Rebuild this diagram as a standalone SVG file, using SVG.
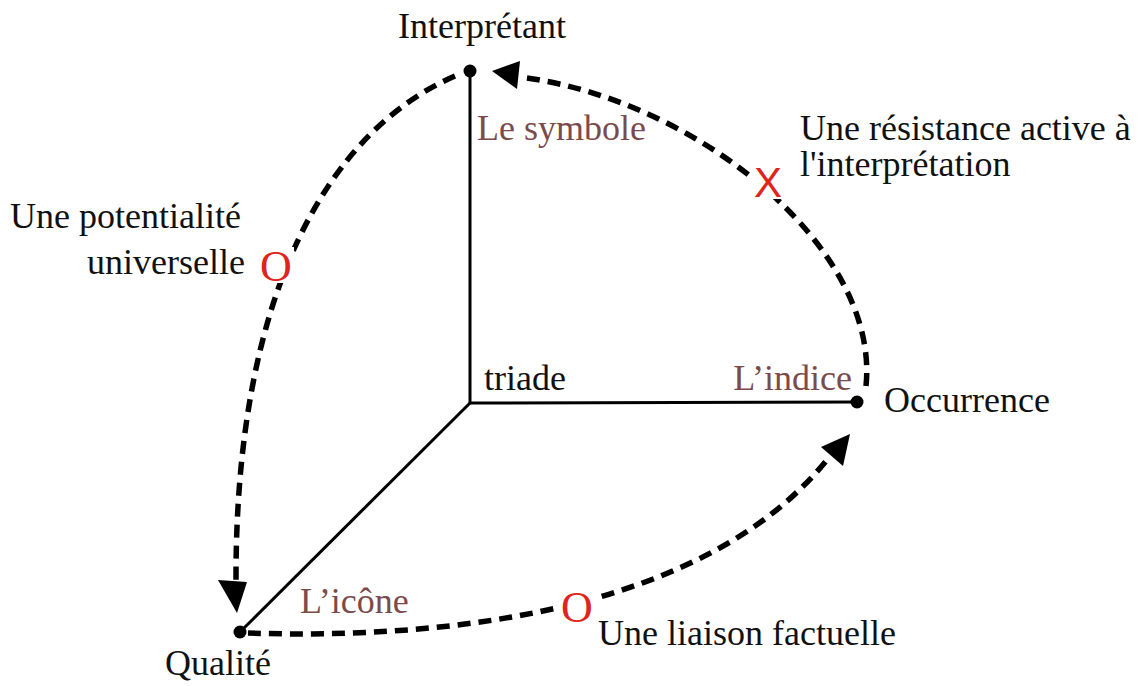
<svg xmlns="http://www.w3.org/2000/svg" width="1138" height="686" viewBox="0 0 1138 686">
<style>
.t{font-family:"Liberation Serif","Times New Roman",serif;font-size:36px;fill:#111}
.b{font-family:"Liberation Serif","Times New Roman",serif;font-size:36px;fill:#7b4b4b}
.m{font-family:"Liberation Serif","Times New Roman",serif;font-size:44px;fill:#e0231b;text-anchor:middle}
.axis{stroke:#000;stroke-width:3;fill:none}
.dash{stroke:#000;stroke-width:5.5;stroke-dasharray:13 8;fill:none}
.dot{fill:#000}
.head{fill:#000}
</style>
<rect width="1138" height="686" fill="#fff"/>
<g id="connectors">
<line class="axis" x1="470" y1="71" x2="470" y2="403"/>
<line class="axis" x1="470" y1="403" x2="857" y2="402"/>
<line class="axis" x1="470" y1="403" x2="240" y2="632"/>
<path class="dash" d="M455 76 C330 130 235 290 236 582"/>
<polygon class="head" points="218,580 247,582 237,613"/>
<path class="dash" d="M866 386 C880 250 700 100 520 77"/>
<polygon class="head" points="520,61 517,89 492,71"/>
<path class="dash" d="M248 633 C450 640 710 610 830 456"/>
<polygon class="head" points="821,447 843,466 850,434"/>
</g>
<g id="node-interpretant">
<circle class="dot" cx="470" cy="71" r="6.5"/>
<text class="t" x="398" y="38">Interprétant</text>
</g>
<g id="node-occurrence">
<circle class="dot" cx="857" cy="402" r="6.5"/>
<text class="t" x="884" y="412">Occurrence</text>
</g>
<g id="node-qualite">
<circle class="dot" cx="240" cy="632" r="6.5"/>
<text class="t" x="165" y="675">Qualité</text>
</g>
<g id="node-triade">
<text class="t" x="484" y="390">triade</text>
</g>
<g id="label-symbole"><text class="b" x="477" y="140">Le symbole</text></g>
<g id="label-indice"><text class="b" x="852" y="390" text-anchor="end">L’indice</text></g>
<g id="label-icone"><text class="b" x="300" y="613">L’icône</text></g>
<g id="mark-resistance">
<rect x="752" y="165" width="32" height="34" fill="#fff"/>
<text x="768" y="197" font-family="Liberation Sans,Arial,sans-serif" font-size="42" fill="#e0231b" text-anchor="middle">X</text>
<text class="t" x="800" y="140">Une résistance active à</text>
<text class="t" x="800" y="176">l'interprétation</text>
</g>
<g id="mark-potentialite">
<rect x="258" y="247" width="36" height="36" fill="#fff"/>
<text class="m" x="276" y="281">O</text>
<text class="t" x="10" y="228">Une potentialité</text>
<text class="t" x="245" y="274" text-anchor="end">universelle</text>
</g>
<g id="mark-liaison">
<rect x="559" y="589" width="36" height="36" fill="#fff"/>
<text class="m" x="577" y="622">O</text>
<text class="t" x="598" y="645">Une liaison factuelle</text>
</g>
</svg>
